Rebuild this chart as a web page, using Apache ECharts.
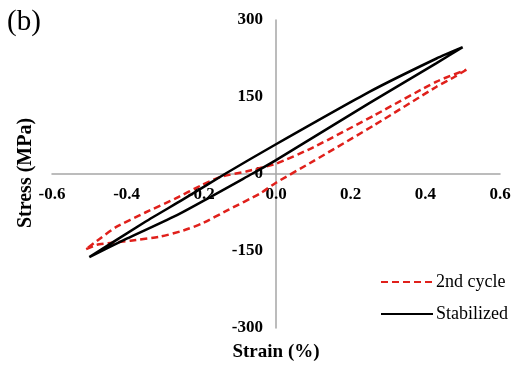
<!DOCTYPE html>
<html>
<head>
<meta charset="utf-8">
<script src="https://cdn.jsdelivr.net/npm/echarts@6/dist/echarts.min.js"></script>
<style>
html,body{margin:0;padding:0;background:#fff;}
#c{width:520px;height:367px;}
</style>
</head>
<body>
<div id="c"></div>
<script>
// Data (strain %, stress MPa), traced as closed loops
const cycle2Strain = [0.51, 0.48, 0.43, 0.265, 0.1, 0.0, -0.043, -0.128, -0.2, -0.248, -0.31, -0.39, -0.45, -0.48, -0.51,
  -0.47, -0.43, -0.35, -0.27, -0.2, -0.15, -0.08, 0.0, 0.1, 0.265, 0.43, 0.51];
const cycle2Stress = [203, 190, 170, 96, 25, -17, -38, -70, -97, -110, -122, -130, -135, -138, -147,
  -125, -104, -75, -48, -22, -6, 5, 20, 52, 115, 180, 203];
const stabStrain = [0.5, 0.43, 0.25, 0.0, -0.065, -0.26, -0.4, -0.5,
  -0.35, -0.25, -0.137, 0.0, 0.25, 0.43, 0.5];
const stabStress = [247, 216, 138, 27, 0, -78, -126, -162,
  -93, -50, 0, 58, 160, 225, 247];
const seriesNames = ['2nd cycle', 'Stabilized'];
const xTicks = {min: -0.6, max: 0.6, step: 0.2};
const yTicks = {min: -300, max: 300, step: 150};

const pair = (xs, ys) => xs.map((x, i) => [x, ys[i]]);
const serif = '"Liberation Serif", "Times New Roman", serif';

const gridLeft = 52, gridRight = 20, gridTop = 20, gridBottom = 39;
const W = 520, H = 367;
const plotW = W - gridLeft - gridRight, plotH = H - gridTop - gridBottom;
// axes cross at the origin: shift each axis to the zero position
const xAxisOffset = -plotH * (0 - yTicks.min) / (yTicks.max - yTicks.min);
const yAxisOffset = -plotW * (0 - xTicks.min) / (xTicks.max - xTicks.min);

const chart = echarts.init(document.getElementById('c'), null, {renderer: 'canvas'});
chart.setOption({
  animation: false,
  backgroundColor: '#ffffff',
  grid: {left: gridLeft, right: gridRight, top: gridTop, bottom: gridBottom, containLabel: false},
  xAxis: {
    type: 'value', min: xTicks.min, max: xTicks.max, interval: xTicks.step,
    position: 'bottom', offset: xAxisOffset,
    axisLine: {onZero: false, lineStyle: {color: '#a6a6a6', width: 1.5}},
    axisTick: {show: false},
    splitLine: {show: false},
    axisLabel: {fontFamily: serif, fontWeight: 'bold', fontSize: 17, color: '#000', margin: 12,
      formatter: v => (Math.abs(v) < 1e-9 ? 0 : v).toFixed(1)}
  },
  yAxis: {
    type: 'value', min: yTicks.min, max: yTicks.max, interval: yTicks.step,
    position: 'left', offset: yAxisOffset,
    axisLine: {show: true, onZero: false, lineStyle: {color: '#a6a6a6', width: 1.5}},
    axisTick: {show: false},
    splitLine: {show: false},
    axisLabel: {fontFamily: serif, fontWeight: 'bold', fontSize: 17, color: '#000', margin: 13}
  },
  legend: {
    orient: 'vertical', left: 375, top: 268, itemWidth: 52, itemHeight: 14, itemGap: 14,
    itemStyle: {opacity: 0},
    textStyle: {fontFamily: serif, fontSize: 18, color: '#000', padding: [0, 0, 0, -2]},
    data: seriesNames
  },
  graphic: [
    {type: 'text', left: 7, top: 8, style: {text: '(b)', font: '29px ' + serif, fill: '#000'}},
    {type: 'text', x: 276, y: 352, style: {text: 'Strain (%)', font: 'bold 19px ' + serif, fill: '#000', align: 'center', verticalAlign: 'middle'}},
    {type: 'text', x: 26, y: 173, rotation: Math.PI / 2, style: {text: 'Stress (MPa)', font: 'bold 20px ' + serif, fill: '#000', align: 'center', verticalAlign: 'middle'}}
  ],
  series: [
    {name: seriesNames[0], type: 'line', data: pair(cycle2Strain, cycle2Stress), symbol: 'none', smooth: 0.2,
      lineStyle: {color: '#e0201b', width: 2.5, type: [7, 4]}, itemStyle: {color: '#e0201b'}},
    {name: seriesNames[1], type: 'line', data: pair(stabStrain, stabStress), symbol: 'none', smooth: 0.2,
      lineStyle: {color: '#000', width: 2.5}, itemStyle: {color: '#000'}}
  ]
});
</script>
</body>
</html>
